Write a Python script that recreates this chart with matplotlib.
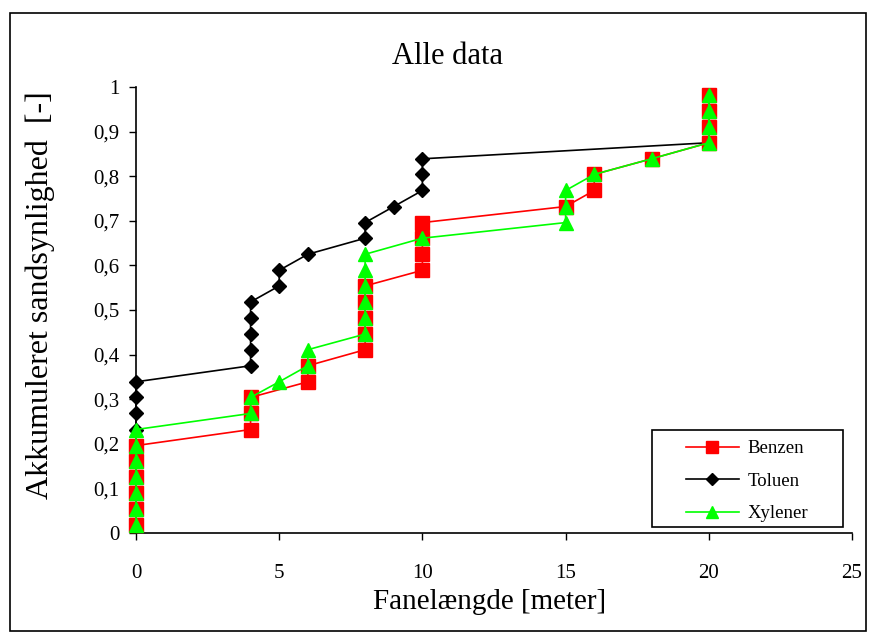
import matplotlib
matplotlib.use("Agg")
import matplotlib.pyplot as plt
from matplotlib.patches import Rectangle

# cumulative probability (shared by all series)
prob = [0.018, 0.054, 0.089, 0.125, 0.161, 0.196, 0.232, 0.268, 0.304, 0.339,
        0.375, 0.411, 0.446, 0.482, 0.518, 0.554, 0.589, 0.625, 0.661, 0.696,
        0.732, 0.768, 0.804, 0.839, 0.875, 0.911, 0.946, 0.982]

benzen_x = [0, 0, 0, 0, 0, 0, 4, 4, 4, 6, 6, 8, 8, 8, 8, 8, 10, 10, 10, 10,
            15, 16, 16, 18, 20, 20, 20, 20]
toluen_x = [0, 0, 0, 0, 0, 0, 0, 0, 0, 0, 4, 4, 4, 4, 4, 5, 5, 6, 8, 8,
            9, 10, 10, 10, 20, 20, 20, 20]
xylener_x = [0, 0, 0, 0, 0, 0, 0, 4, 4, 5, 6, 6, 8, 8, 8, 8, 8, 8, 10, 15,
             15, 15, 16, 18, 20, 20, 20, 20]

plt.rcParams['font.family'] = ['Liberation Serif', 'DejaVu Serif']

fig = plt.figure(figsize=(8.71, 6.33), dpi=100)
ax = fig.add_axes([136/871, 1 - 533/633, (852 - 136)/871, (533 - 87)/633])

ax.plot(toluen_x, prob, color='black', marker='D', markersize=7.5, lw=1.2,
        label='Toluen', zorder=2)
ax.plot(benzen_x, prob, color='red', marker='s', markersize=9.5, lw=1.2,
        label='Benzen', zorder=3)
ax.plot(xylener_x, prob, color='#00ff00', marker='^', markersize=10, lw=1.2,
        label='Xylener', zorder=4)

ax.set_xlim(0, 25)
ax.set_ylim(0, 1)
ax.set_xticks([0, 5, 10, 15, 20, 25])
ax.set_yticks([i / 10 for i in range(11)])
ax.set_yticklabels(['0', '0,1', '0,2', '0,3', '0,4', '0,5', '0,6', '0,7', '0,8', '0,9', '1'])
ax.tick_params(labelsize=15, direction='out', length=5, width=1)
ax.tick_params(axis='x', pad=17)
ax.tick_params(axis='y', pad=7)
ax.spines['top'].set_visible(False)
ax.spines['right'].set_visible(False)
for s in ['left', 'bottom']:
    ax.spines[s].set_linewidth(1.2)
for line in ax.get_lines():
    line.set_clip_on(False)

fig.text(447/871, 1 - 57/633, 'Alle data', fontsize=22, ha='center', va='center')
ax.set_xlabel('Fanelængde [meter]', fontsize=21)
ax.xaxis.set_label_coords((490 - 136)/716, (533 - 589)/446)
ax.set_ylabel('Akkumuleret sandsynlighed  [-]', fontsize=23)
ax.yaxis.set_label_coords((55 - 136)/716, (533 - 295)/446)

handles, labels = ax.get_legend_handles_labels()
order = [1, 0, 2]
leg = ax.legend([handles[i] for i in order], [labels[i] for i in order],
                loc='center', bbox_to_anchor=(747/871, 1 - 481/633),
                bbox_transform=fig.transFigure,
                fontsize=13.5, frameon=False,
                handlelength=2.8, markerscale=0.85, borderpad=0, labelspacing=0.82,
                handletextpad=0.45, borderaxespad=0)

# legend box drawn separately (wide side padding as in the source)
fig.patches.append(Rectangle((652/871, 1 - 527/633), (843 - 652)/871, (527 - 430)/633,
                             transform=fig.transFigure, fill=False,
                             edgecolor='black', lw=1.2, zorder=5))

fig.patches.append(Rectangle((10/871, 2/633), (866 - 10)/871, (620 - 2)/633,
                             transform=fig.transFigure, fill=False,
                             edgecolor='black', lw=1.2))

fig.savefig('out.png', dpi=100)
